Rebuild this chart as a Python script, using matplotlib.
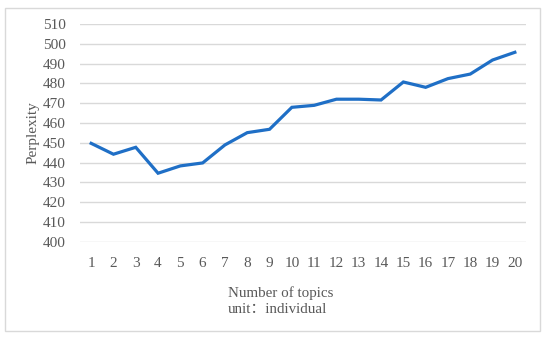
import matplotlib

matplotlib.use("Agg")
import matplotlib.pyplot as plt
from matplotlib.patches import Rectangle

topics = list(range(1, 21))
perplexity = [449.7, 444.2, 447.7, 434.6, 438.3, 439.8, 448.9, 455.1, 456.8, 467.9,
              468.9, 472.0, 472.0, 471.6, 480.7, 478.0, 482.4, 484.7, 491.8, 495.7]
y_ticks = list(range(400, 511, 10))

text_gray = "#595959"
grid_gray = "#d9d9d9"

plt.rcParams["font.family"] = ["Liberation Serif", "DejaVu Serif"]

fig = plt.figure(figsize=(5.5, 3.38), dpi=100)
fig.patches.append(Rectangle((5 / 550, 1 - 330.5 / 338), 535 / 550, 323 / 338,
                             transform=fig.transFigure, fill=False,
                             edgecolor=grid_gray, linewidth=1))

ax = fig.add_axes([80 / 550, 1 - 241.7 / 338, 446 / 550, 217.7 / 338])
ax.plot(topics, perplexity, color="#1f6fc6", linewidth=2.3, solid_joinstyle="miter")
ax.set_xlim(0.5, 20.5)
ax.set_ylim(400, 510)
ax.set_xticks(topics)
ax.set_yticks(y_ticks)
ax.grid(axis="y", color=grid_gray, linewidth=1)
ax.set_axisbelow(True)
for s in ax.spines.values():
    s.set_visible(False)
ax.tick_params(length=0, colors=text_gray, labelsize=11)
ax.tick_params(axis="x", pad=11)
ax.tick_params(axis="y", pad=10)

ax.set_ylabel("Perplexity", color=text_gray, fontsize=11)
ax.yaxis.set_label_coords(-0.09, 0.5)
fig.text(228 / 550, 1 - 301 / 338, "Number of topics\nunit\uff1aindividual",
         color=text_gray, fontsize=10.8, ha="left", va="center",
         multialignment="left", linespacing=1.25,
         family=["Liberation Serif", "Noto Sans CJK SC"])

fig.savefig("out.png", dpi=100)
